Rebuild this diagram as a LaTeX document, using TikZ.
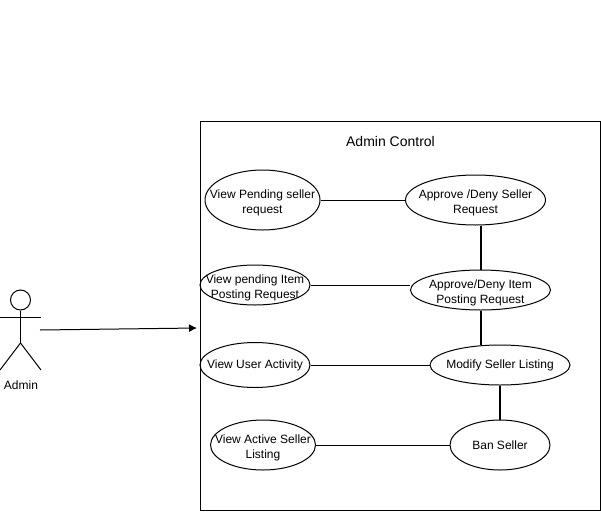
\documentclass[tikz,border=0pt]{standalone}
\usepackage{fontspec}
\setmainfont{Liberation Sans}
\usepackage{tikz}
\usetikzlibrary{shapes.geometric}
\usetikzlibrary{arrows.meta}
\tikzset{
	usecase/.style={draw, ellipse, align=center, inner sep=-14pt, font=\fontsize{12}{15}\selectfont},
	twoline/.style={usecase, text height=30pt},
	link/.style={line width=1pt},
	thicklink/.style={line width=2pt},
	limb/.style={line width=1pt},
}

\begin{document}
\begin{tikzpicture}[x=1pt, y=-1pt, line width=1pt]
			\useasboundingbox (0,0) rectangle (601,519);
		
			\node[draw, rectangle, minimum width=400pt, minimum height=389pt] (frame) at (400,315.5) {};
			\node[font=\fontsize{14}{16}\selectfont] (title) at (390.5,141) {Admin Control};
		
			\node[twoline, minimum width=115pt, minimum height=60pt] (vseller) at (262.5,200) {View Pending seller\\request};
			\node[twoline, minimum width=110pt, minimum height=40pt] (vitem) at (255,285) {View pending Item\\Posting Request};
			\node[usecase, minimum width=110pt, minimum height=45pt] (vuser) at (255,365) {View User Activity};
			\node[twoline, minimum width=105pt, minimum height=50pt] (vactive) at (263,445) {View Active Seller\\Listing};
		
			\node[twoline, minimum width=140pt, minimum height=50pt] (aseller) at (475.5,200) {Approve /Deny Seller\\Request};
			\node[twoline, minimum width=140pt, minimum height=40pt] (aitem) at (480.5,290) {Approve/Deny Item\\Posting Request};
			\node[usecase, minimum width=140pt, minimum height=40pt] (modify) at (500,365) {Modify Seller Listing};
			\node[usecase, minimum width=100pt, minimum height=50pt] (ban) at (500,445) {Ban Seller};
		
			\draw[link] (vseller) to (aseller);
			\draw[link] (vitem.east) to (vitem.east -| aitem.west);
			\draw[link] (vuser) to (modify);
			\draw[link] (vactive) to (ban);
		
			\draw[thicklink] (aitem.north) to (aitem.north |- aseller.south);
			\draw[thicklink] (aitem.south) to (aitem.south |- modify.north);
			\draw[thicklink] (modify) to (ban);
		
			\node[draw, circle, minimum size=20pt, inner sep=0pt] (head) at (20.5,300) {};
			\coordinate (hip) at (20.5,343);
			\coordinate (lhand) at (0,317);
			\coordinate (rhand) at (41,317);
			\coordinate (lfoot) at (0,370);
			\coordinate (rfoot) at (41,370);
			\node[font=\fontsize{12}{15}\selectfont] (admin) at (21,385) {Admin};
		
			\draw[limb] (head) to (hip);
			\draw[limb] (lhand) to (rhand);
			\draw[limb] (hip) to (lfoot);
			\draw[limb] (hip) to (rfoot);
		
			\coordinate (actor) at (40,330);
			\coordinate (entry) at (197,328);
			\draw[-{Latex[length=8pt, width=8pt]}, link] (actor) to (entry);
		\end{tikzpicture}
\end{document}
